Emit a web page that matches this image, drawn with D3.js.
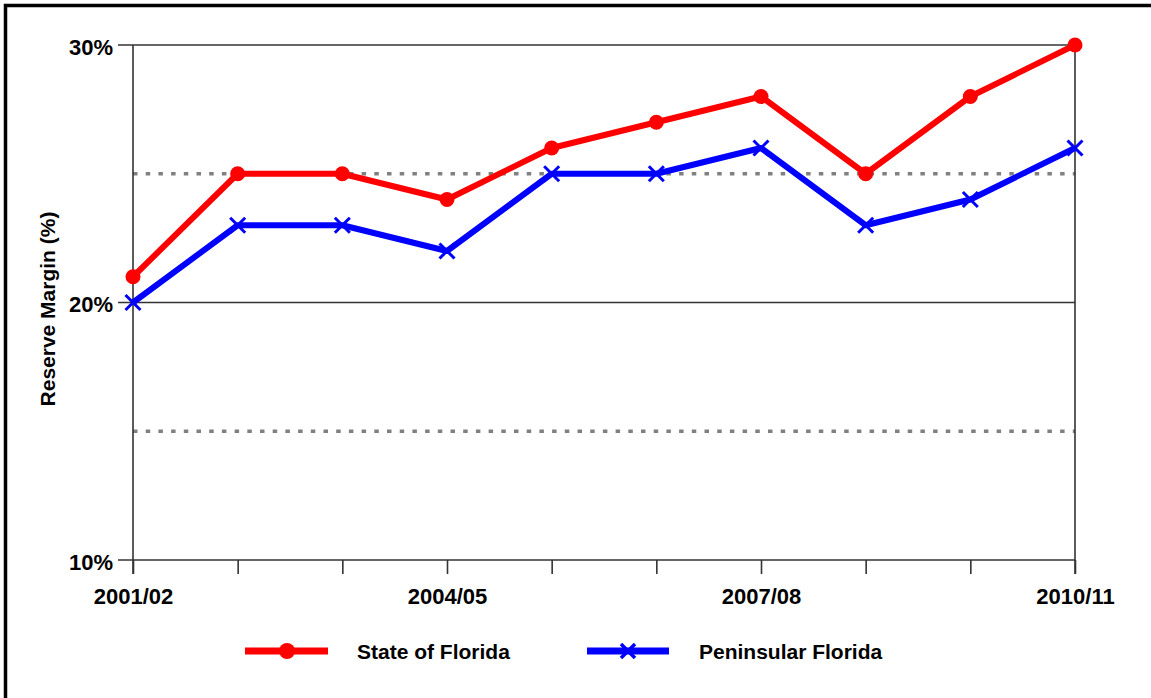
<!DOCTYPE html>
<html>
<head>
<meta charset="utf-8">
<script src="https://cdn.jsdelivr.net/npm/d3@7"></script>
<style>
  body { margin: 0; background: #fff; }
  text { font-family: "Liberation Sans", Arial, sans-serif; font-weight: bold; fill: #000; }
</style>
</head>
<body>
<div id="chart"></div>
<script>
// reserve margin by season
const seasons = ["2001/02", "2002/03", "2003/04", "2004/05", "2005/06",
                 "2006/07", "2007/08", "2008/09", "2009/10", "2010/11"];
const stateFlorida = [21, 25, 25, 24, 26, 27, 28, 25, 28, 30];
const peninsularFlorida = [20, 23, 23, 22, 25, 25, 26, 23, 24, 26];
const xTickLabels = ["2001/02", "2004/05", "2007/08", "2010/11"];
const yTicks = [10, 20, 30];
const refLines = [15, 25];

const svg = d3.select("#chart").append("svg")
    .attr("width", 1151)
    .attr("height", 698);

// outer frame (left + top edges)
svg.append("path")
    .attr("d", "M5.5,698 V5.5 H1151")
    .attr("fill", "none")
    .attr("stroke", "#000")
    .attr("stroke-width", 3.5);

const x = d3.scalePoint().domain(seasons).range([133, 1075]),
      y = d3.scaleLinear().domain([10, 30]).range([560, 45]);

// gridlines
svg.append("g")
    .selectAll("line")
    .data(yTicks)
    .enter().append("line")
    .attr("x1", 118).attr("x2", 1075)
    .attr("y1", d => y(d)).attr("y2", d => y(d))
    .attr("stroke", "#333").attr("stroke-width", 1.6);

// dotted reference lines
svg.append("g")
    .selectAll("line")
    .data(refLines)
    .enter().append("line")
    .attr("x1", 133).attr("x2", 1075)
    .attr("y1", d => y(d)).attr("y2", d => y(d))
    .attr("stroke", "#808080").attr("stroke-width", 3.5)
    .attr("stroke-dasharray", "4.5 8.2");

// vertical edges
svg.append("g")
    .selectAll("line")
    .data([seasons[0], seasons[seasons.length - 1]])
    .enter().append("line")
    .attr("x1", d => x(d)).attr("x2", d => x(d))
    .attr("y1", y(30)).attr("y2", 574)
    .attr("stroke", "#333").attr("stroke-width", 1.6);

// x axis
const xAxis = svg.append("g")
    .attr("transform", `translate(0,${y(10)})`)
    .call(d3.axisBottom(x).tickSize(14).tickPadding(14)
        .tickFormat(d => xTickLabels.includes(d) ? d : ""));
xAxis.select(".domain").remove();
xAxis.selectAll(".tick line").attr("stroke", "#333").attr("stroke-width", 1.6);
xAxis.selectAll("text").style("font-size", "22px").attr("fill", "#000");

// y axis labels
const yAxis = svg.append("g")
    .attr("transform", "translate(133,0)")
    .call(d3.axisLeft(y).tickValues(yTicks).tickSize(15).tickPadding(6)
        .tickFormat(d => d + "%"));
yAxis.select(".domain").remove();
yAxis.selectAll(".tick line").remove();
yAxis.selectAll("text").style("font-size", "22px").attr("fill", "#000")
    .attr("x", -20).attr("dy", "0.42em");

// axis title
svg.append("text")
    .attr("transform", "translate(55,309) rotate(-90)")
    .attr("text-anchor", "middle")
    .style("font-size", "21px")
    .text("Reserve Margin (%)");

const line = d3.line()
    .x((d, i) => x(seasons[i]))
    .y(d => y(d));

// State of Florida
svg.append("path")
    .datum(stateFlorida)
    .attr("d", line)
    .attr("fill", "none")
    .attr("stroke", "#ff0000")
    .attr("stroke-width", 6)
    .attr("stroke-linejoin", "round");

svg.append("g")
    .selectAll("circle")
    .data(stateFlorida)
    .enter().append("circle")
    .attr("cx", (d, i) => x(seasons[i]))
    .attr("cy", d => y(d))
    .attr("r", 7.5)
    .attr("fill", "#ff0000");

// Peninsular Florida
svg.append("path")
    .datum(peninsularFlorida)
    .attr("d", line)
    .attr("fill", "none")
    .attr("stroke", "#0000ff")
    .attr("stroke-width", 6)
    .attr("stroke-linejoin", "round");

const cross = s => `M${-s},${-s}L${s},${s}M${-s},${s}L${s},${-s}`;

svg.append("g")
    .selectAll("path")
    .data(peninsularFlorida)
    .enter().append("path")
    .attr("transform", (d, i) => `translate(${x(seasons[i])},${y(d)})`)
    .attr("d", cross(7.5))
    .attr("stroke", "#0000ff")
    .attr("stroke-width", 3);

// legend
const legend = svg.append("g");
legend.append("line")
    .attr("x1", 245).attr("x2", 328).attr("y1", 651).attr("y2", 651)
    .attr("stroke", "#ff0000").attr("stroke-width", 7);
legend.append("circle")
    .attr("cx", 287).attr("cy", 651).attr("r", 8)
    .attr("fill", "#ff0000");
legend.append("text")
    .attr("x", 357).attr("y", 659)
    .style("font-size", "21px")
    .text("State of Florida");

legend.append("line")
    .attr("x1", 587).attr("x2", 669).attr("y1", 651).attr("y2", 651)
    .attr("stroke", "#0000ff").attr("stroke-width", 7);
legend.append("path")
    .attr("transform", "translate(628,651)")
    .attr("d", cross(7))
    .attr("stroke", "#0000ff").attr("stroke-width", 3.5);
legend.append("text")
    .attr("x", 699).attr("y", 659)
    .style("font-size", "21px")
    .text("Peninsular Florida");
</script>
</body>
</html>
